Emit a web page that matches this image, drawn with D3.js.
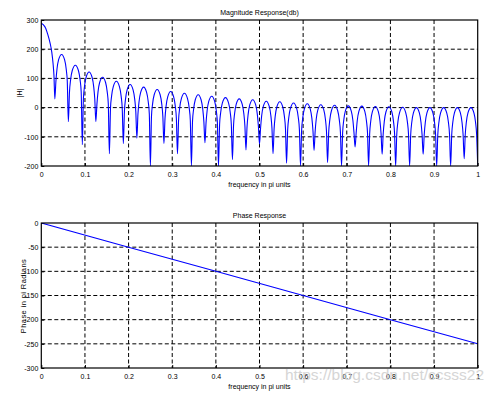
<!DOCTYPE html>
<html>
<head>
<meta charset="utf-8">
<script src="https://cdn.jsdelivr.net/npm/d3@7"></script>
<style>
  body { margin: 0; background: #fff; }
  svg { display: block; }
  text { font-family: "Liberation Sans Narrow", "Arial Narrow", "Liberation Sans", Arial, sans-serif; fill: #000; }
</style>
</head>
<body>
<svg></svg>
<script>
// ---- data ----
const xTicks = [0, 0.1, 0.2, 0.3, 0.4, 0.5, 0.6, 0.7, 0.8, 0.9, 1];
const magTicks = [-200, -100, 0, 100, 200, 300];
const phaseTicks = [-300, -250, -200, -150, -100, -50, 0];

// main lobe
const mainFreq = [0, 0.005, 0.01, 0.015, 0.02, 0.024, 0.027, 0.029];
const mainDb = [289, 283, 272, 250, 222, 190, 150, 110];

// nulls (dips) of the magnitude response
const nullFreq = [0.031, 0.062, 0.094, 0.125, 0.156, 0.188, 0.219, 0.25, 0.281, 0.312, 0.344,
  0.375, 0.406, 0.438, 0.469, 0.5, 0.531, 0.562, 0.594, 0.625, 0.656, 0.688, 0.719, 0.75,
  0.781, 0.812, 0.844, 0.875, 0.906, 0.938, 0.969, 1.0];
const nullDb = [30, -48, -127, -48, -158, -123, -105, -200, -123, -158, -200, -120, -200, -178,
  -145, -125, -158, -190, -200, -147, -188, -200, -135, -200, -160, -200, -200, -160, -200,
  -200, -175, -200];

// side lobes: sample positions inside each lobe and the values there
const lobeT = [0.08, 0.16, 0.28, 0.5, 0.72, 0.84, 0.92];
const peakDb = [182, 145, 122, 104, 90, 79, 70, 62, 55, 49, 44, 39, 34, 30, 27, 22, 20, 16, 13,
  10, 8, 6, 5, 4, 3, 1, 0, 0, 0, 0, 0];
const kneeDb = [164, 127, 104, 86, 72, 61, 52, 44, 37, 31, 26, 21, 16, 12, 9, 4, 2, -2, -5, -8,
  -10, -12, -13, -14, -15, -17, -18, -18, -18, -18, -18];
const shoulderDb = [132, 95, 72, 54, 40, 29, 20, 12, 5, -1, -6, -11, -16, -20, -23, -28, -30,
  -34, -37, -40, -42, -44, -45, -46, -47, -49, -50, -50, -50, -50, -50];
const edgeDb = [90, 53, 30, 12, -2, -13, -22, -30, -37, -43, -48, -53, -58, -62, -65, -70, -72,
  -76, -79, -82, -84, -86, -87, -88, -89, -91, -92, -92, -92, -92, -92];

// phase response
const phaseFreq = [0, 0.2, 0.4, 0.6, 0.8, 1];
const phaseVal = [0, -50, -100, -150, -200, -250];

// ---- layout ----
const width = 497;
const height = 395;
const left = 41.3;
const right = 477.7;

const svg = d3.select('svg').attr('width', width).attr('height', height);

const drawPanel = (id, top, bottom, yDomain, yTicks, title) => {
  const x = d3.scaleLinear().domain([0, 1]).range([left, right]);
  const y = d3.scaleLinear().domain(yDomain).range([bottom, top]);
  const g = svg.append('g').attr('id', id);

  // dashed grid
  g.append('g')
    .selectAll('line')
    .data(xTicks.slice(1, -1))
    .enter()
    .append('line')
    .attr('x1', (d) => x(d)).attr('x2', (d) => x(d))
    .attr('y1', top).attr('y2', bottom)
    .attr('stroke', '#000').attr('stroke-width', 1).attr('stroke-dasharray', '4,2.5');
  g.append('g')
    .selectAll('line')
    .data(yTicks.slice(1, -1))
    .enter()
    .append('line')
    .attr('y1', (d) => y(d)).attr('y2', (d) => y(d))
    .attr('x1', left).attr('x2', right)
    .attr('stroke', '#000').attr('stroke-width', 1).attr('stroke-dasharray', '4,2.5');

  // axes (ticks pointing inside)
  const xAxis = d3.axisBottom(x).tickValues(xTicks).tickSize(-3).tickPadding(6)
    .tickFormat((d) => String(d));
  const yAxis = d3.axisLeft(y).tickValues(yTicks).tickSize(-3).tickPadding(3)
    .tickFormat((d) => String(d));

  const gx = g.append('g').attr('transform', 'translate(0,' + bottom + ')').call(xAxis);
  const gy = g.append('g').attr('transform', 'translate(' + left + ',0)').call(yAxis);
  [gx, gy].forEach((a) => {
    a.select('.domain').remove();
    a.selectAll('line').attr('stroke', '#000');
    a.selectAll('text').attr('font-size', 7).style('font-family', null);
  });

  g.append('clipPath').attr('id', id + '-clip')
    .append('rect')
    .attr('x', left).attr('y', top)
    .attr('width', right - left).attr('height', bottom - top);

  g.append('text')
    .attr('x', (left + right) / 2).attr('y', top - 5)
    .attr('text-anchor', 'middle').attr('font-size', 7)
    .text(title);
  g.append('text')
    .attr('x', (left + right) / 2).attr('y', bottom + 21)
    .attr('text-anchor', 'middle').attr('font-size', 7)
    .text('frequency in pi units');

  return { x, y, g, top, bottom };
};

// ---- magnitude ----
const mag = drawPanel('mag', 20, 166, [-200, 300], magTicks, 'Magnitude Response(db)');

const magPoints = [];
mainFreq.forEach((f, i) => magPoints.push([f, mainDb[i]]));
nullFreq.forEach((f, k) => {
  magPoints.push([f, nullDb[k]]);
  if (k < peakDb.length) {
    const w = nullFreq[k + 1] - f;
    const vals = [edgeDb[k], shoulderDb[k], kneeDb[k], peakDb[k], kneeDb[k], shoulderDb[k], edgeDb[k]];
    lobeT.forEach((t, j) => magPoints.push([f + t * w, vals[j]]));
  }
});

const magLine = d3.line()
  .x((d) => mag.x(d[0]))
  .y((d) => mag.y(d[1]))
  .curve(d3.curveMonotoneX);

mag.g.append('path')
  .datum(magPoints)
  .attr('clip-path', 'url(#mag-clip)')
  .attr('d', magLine)
  .attr('fill', 'none')
  .attr('stroke', '#0000ff')
  .attr('stroke-width', 1.1);

mag.g.append('text')
  .attr('transform', 'translate(22,93) rotate(-90)')
  .attr('text-anchor', 'middle').attr('font-size', 7)
  .text('|H|');

// ---- phase ----
const ph = drawPanel('phase', 223, 368, [-300, 0], phaseTicks, 'Phase Response');

const phaseLine = d3.line()
  .x((d, i) => ph.x(phaseFreq[i]))
  .y((d) => ph.y(d));

ph.g.append('path')
  .datum(phaseVal)
  .attr('clip-path', 'url(#phase-clip)')
  .attr('d', phaseLine)
  .attr('fill', 'none')
  .attr('stroke', '#0000ff')
  .attr('stroke-width', 1.1);

ph.g.append('text')
  .attr('transform', 'translate(26,296) rotate(-90)')
  .attr('text-anchor', 'middle').attr('font-size', 7.5)
  .style('font-family', '"Liberation Sans", Arial, sans-serif')
  .attr('letter-spacing', 0.4)
  .text('Phase in pi Radians');

// box frames on top of everything
[mag, ph].forEach((p) => {
  p.g.append('rect')
    .attr('x', left).attr('y', p.top)
    .attr('width', right - left).attr('height', p.bottom - p.top)
    .attr('fill', 'none').attr('stroke', '#000').attr('stroke-width', 1.2);
});

// watermark (overlaps the tick labels, as in the original)
svg.append('text')
  .attr('x', 285).attr('y', 380)
  .attr('font-size', 15.5)
  .style('font-family', '"Liberation Sans", Arial, sans-serif')
  .style('fill', '#c8c8c8')
  .attr('opacity', 0.75)
  .text('https://blog.csdn.net/ccsss22');
</script>
</body>
</html>
